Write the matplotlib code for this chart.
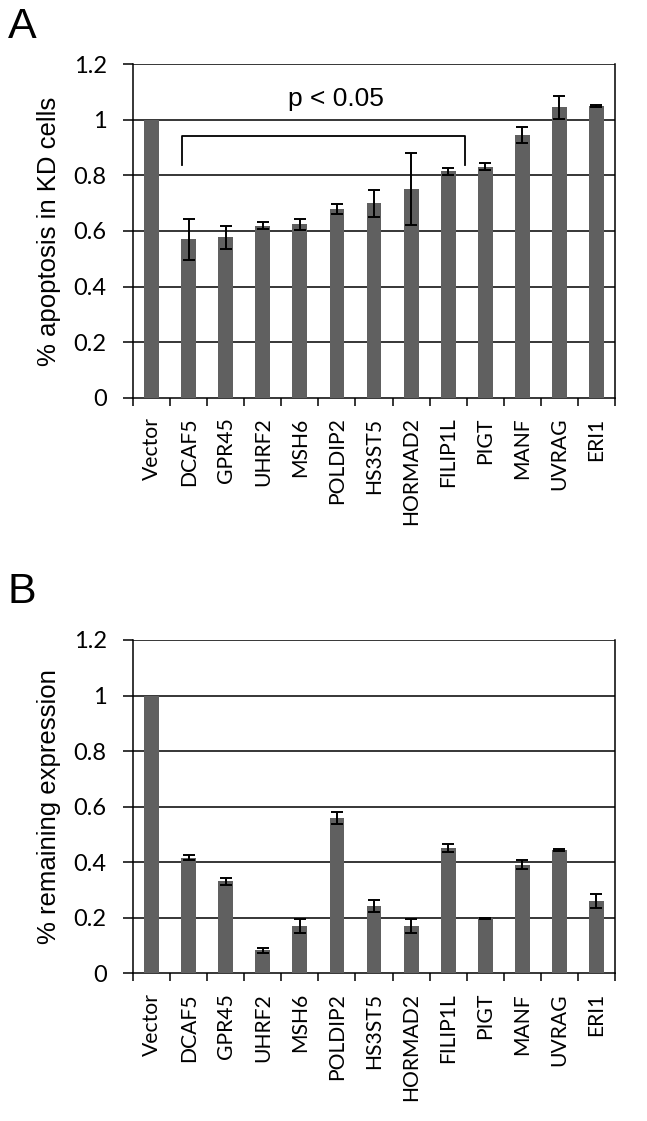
import numpy as np
import matplotlib
matplotlib.use('Agg')
import matplotlib.pyplot as plt

# 基因名称（两个子图共用）
genes = ['Vector', 'DCAF5', 'GPR45', 'UHRF2', 'MSH6', 'POLDIP2', 'HS3ST5',
         'HORMAD2', 'FILIP1L', 'PIGT', 'MANF', 'UVRAG', 'ERI1']

# A: 凋亡比例
apoptosis = [1.0, 0.570, 0.577, 0.619, 0.624, 0.679, 0.700,
             0.750, 0.814, 0.831, 0.945, 1.044, 1.050]
apoptosis_err = [0.0, 0.073, 0.040, 0.012, 0.020, 0.017, 0.048,
                 0.130, 0.014, 0.012, 0.029, 0.042, 0.004]

# B: 剩余表达量
expression = [1.0, 0.417, 0.331, 0.083, 0.171, 0.560, 0.244,
              0.171, 0.451, 0.199, 0.391, 0.444, 0.261]
expression_err = [0.0, 0.008, 0.014, 0.010, 0.025, 0.022, 0.022,
                  0.025, 0.015, 0.002, 0.016, 0.004, 0.024]

y_ticks = [0, 0.2, 0.4, 0.6, 0.8, 1.0, 1.2]
y_tick_labels = ['0', '0.2', '0.4', '0.6', '0.8', '1', '1.2']

BAR_COLOR = '#606060'
TICK_FONT = 'Lato'
LABEL_FONT = 'Liberation Sans'

fig = plt.figure(figsize=(6.47, 11.21), dpi=100)


def draw_panel(ax, values, errors, ylabel):
    x = np.arange(len(genes))
    ax.bar(x, values, width=0.4, color=BAR_COLOR, zorder=3)
    ax.errorbar(x[1:], values[1:], yerr=errors[1:], fmt='none', ecolor='black',
                elinewidth=1.4, capsize=4.5, capthick=1.4, zorder=4)

    ax.set_xlim(-0.5, len(genes) - 0.5)
    ax.set_ylim(0, 1.2)
    ax.set_yticks(y_ticks)
    ax.set_yticklabels(y_tick_labels, fontfamily=TICK_FONT, fontsize=17)
    for yv in y_ticks[1:]:
        ax.axhline(yv, color='black', lw=1.1, zorder=2)

    # 类别刻度在分界处，标签在柱子中心
    ax.set_xticks(x)
    ax.set_xticklabels(genes, rotation=90, fontfamily=TICK_FONT, fontsize=15.2)
    ax.set_xticks(np.arange(-0.5, len(genes)), minor=True)
    ax.tick_params(axis='x', which='major', length=0, pad=14)
    ax.tick_params(axis='x', which='minor', length=6, width=1.1, direction='out')
    ax.tick_params(axis='y', which='major', length=7, width=1.1, direction='out', pad=12)

    for side in ['left', 'right', 'bottom']:
        ax.spines[side].set_linewidth(1.1)
        ax.spines[side].set_color('black')
    ax.spines['top'].set_visible(False)

    ax.set_ylabel(ylabel, fontfamily=LABEL_FONT, fontsize=18.5, labelpad=9)


# 子图 A
axA = fig.add_axes([0.2056, 0.6450, 0.745, 0.2979])
draw_panel(axA, apoptosis, apoptosis_err, '% apoptosis in KD cells')
# 显著性括号
axA.plot([0.81, 0.81, 8.45, 8.45], [0.837, 0.941, 0.941, 0.837],
         color='black', lw=1.3, zorder=5)
axA.text(4.98, 1.03, 'p < 0.05', ha='center', va='bottom',
         fontfamily=LABEL_FONT, fontsize=19)

# 子图 B
axB = fig.add_axes([0.2056, 0.1316, 0.745, 0.2975])
draw_panel(axB, expression, expression_err, '% remaining expression')

fig.text(0.012, 0.966, 'A', fontfamily=LABEL_FONT, fontsize=31, va='baseline')
fig.text(0.012, 0.462, 'B', fontfamily=LABEL_FONT, fontsize=31, va='baseline')

plt.savefig('out.png', dpi=100)
